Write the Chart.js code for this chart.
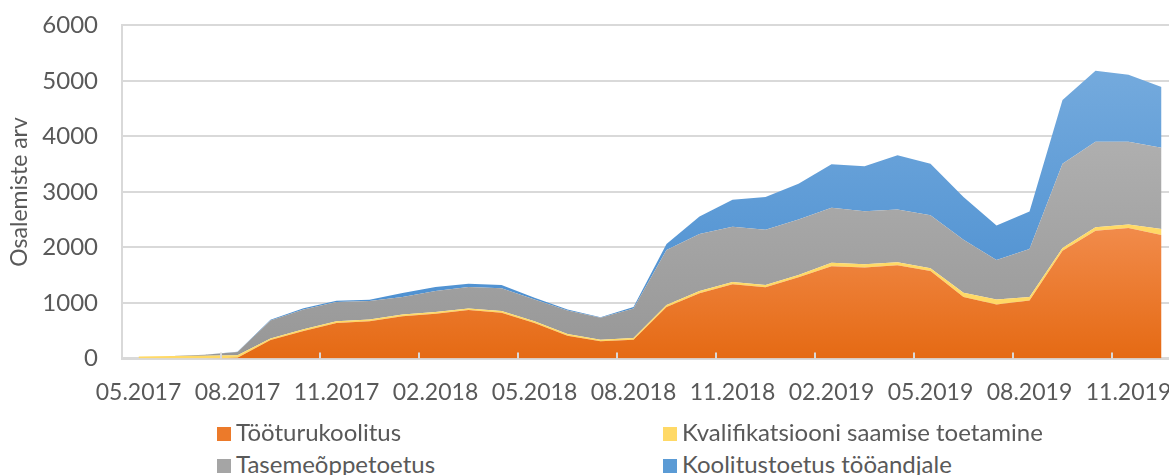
<!DOCTYPE html>
<html>
<head>
<meta charset="utf-8">
<script src="https://cdn.jsdelivr.net/npm/chart.js@4.4.1/dist/chart.umd.min.js"></script>
<style>
    html, body { margin: 0; padding: 0; background: #fff; overflow: hidden; }
    #wrap { position: relative; width: 1169px; height: 475px; overflow: hidden; }
    #box { position: absolute; left: 0; top: -13px; width: 1178px; height: 431px; }
    .legend-item { position: absolute; font-family: Lato, sans-serif; font-size: 24px; color: #595959; white-space: nowrap; line-height: 28px; }
    .legend-item span { display: inline-block; width: 14px; height: 14px; margin-right: 5px; vertical-align: 0px; }
</style>
</head>
<body>
<div id="wrap">
    <div id="box"><canvas id="myChart"></canvas></div>
    <div id="legendItems"></div>
</div>
<script>
var months = [
    '05.2017', '06.2017', '07.2017', '08.2017', '09.2017', '10.2017', '11.2017', '12.2017',
    '01.2018', '02.2018', '03.2018', '04.2018', '05.2018', '06.2018', '07.2018', '08.2018',
    '09.2018', '10.2018', '11.2018', '12.2018', '01.2019', '02.2019', '03.2019', '04.2019',
    '05.2019', '06.2019', '07.2019', '08.2019', '09.2019', '10.2019', '11.2019', '12.2019'
];
var seriesNames = ['Tööturukoolitus', 'Kvalifikatsiooni saamise toetamine', 'Tasemeõppetoetus', 'Koolitustoetus tööandjale'];
var tooturukoolitus = [0, 0, 0, 10, 330, 495, 640, 670, 760, 804, 870, 822, 640, 410, 308, 338,
    925, 1175, 1335, 1283, 1460, 1661, 1637, 1679, 1577, 1106, 973, 1045, 1940, 2302, 2350, 2224];
var kvalifikatsioon = [35, 45, 50, 45, 27, 30, 30, 30, 31, 30, 30, 30, 30, 31, 30, 30,
    35, 39, 42, 40, 44, 61, 61, 55, 47, 78, 90, 61, 48, 60, 61, 108];
var tasemeope = [0, 0, 15, 60, 326, 357, 345, 333, 314, 380, 387, 411, 393, 422, 393, 532,
    992, 1028, 997, 997, 997, 991, 955, 949, 956, 955, 708, 864, 1521, 1541, 1492, 1462];
var koolitustoetus = [0, 0, 0, 5, 15, 20, 25, 25, 75, 73, 60, 60, 31, 19, 12, 24,
    108, 314, 484, 586, 647, 785, 809, 978, 929, 767, 622, 676, 1149, 1281, 1208, 1094];
var yTicks = [0, 1000, 2000, 3000, 4000, 5000, 6000];

var legendColors = ['#EC7A2A', '#FFD966', '#A5A5A5', '#5B9BD5'];

// vertical gradient, like the Excel fill (canvas coords, box is shifted up 13px)
function grad(y0, c0, y1, c1) {
    return function (context) {
        var ctx = context.chart.ctx;
        var g = ctx.createLinearGradient(0, y0 + 13, 0, y1 + 13);
        g.addColorStop(0, c0);
        g.addColorStop(1, c1);
        return g;
    };
}

var tickMarks = {
    id: 'tickMarks',
    afterDatasetsDraw: function (chart) {
        var x = chart.scales.x, area = chart.chartArea, ctx = chart.ctx;
        var half = (x.getPixelForValue(1) - x.getPixelForValue(0)) / 2;
        ctx.save();
        ctx.strokeStyle = '#D9D9D9';
        ctx.lineWidth = 2;
        for (var i = 3; i < months.length; i += 3) {
            var px = Math.round(x.getPixelForValue(i) - half);
            ctx.beginPath();
            ctx.moveTo(px, area.bottom);
            ctx.lineTo(px, area.bottom - 6);
            ctx.stroke();
        }
        ctx.restore();
    }
};

var shadow = {
    id: 'shadow',
    beforeDatasetDraw: function (chart) {
        var ctx = chart.ctx;
        ctx.save();
        ctx.shadowColor = 'rgba(0,0,0,0.22)';
        ctx.shadowBlur = 4;
        ctx.shadowOffsetX = 1;
        ctx.shadowOffsetY = 1;
    },
    afterDatasetDraw: function (chart) {
        chart.ctx.restore();
    }
};

var ctx = document.getElementById('myChart');
var chart = new Chart(ctx, {
    type: 'line',
    plugins: [shadow, tickMarks],
    data: {
        labels: months,
        datasets: [{
            label: seriesNames[0],
            data: tooturukoolitus,
            fill: 'origin',
            backgroundColor: grad(220, '#F28D4E', 357, '#E56A14')
        }, {
            label: seriesNames[1],
            data: kvalifikatsioon,
            fill: '-1',
            backgroundColor: '#FFD966'
        }, {
            label: seriesNames[2],
            data: tasemeope,
            fill: '-1',
            backgroundColor: grad(140, '#AFAFAF', 357, '#979797')
        }, {
            label: seriesNames[3],
            data: koolitustoetus,
            fill: '-1',
            backgroundColor: grad(70, '#74AADD', 330, '#4A8ED0')
        }]
    },
    options: {
        responsive: true,
        maintainAspectRatio: false,
        animation: false,
        layout: { padding: { left: 0, right: 0, top: 1, bottom: 0 } },
        elements: {
            line: { borderWidth: 0, tension: 0 },
            point: { radius: 0, hoverRadius: 0 }
        },
        plugins: {
            legend: { display: false },
            tooltip: { enabled: false }
        },
        scales: {
            x: {
                offset: true,
                grid: { display: false },
                border: { display: true, color: '#D9D9D9', width: 3 },
                ticks: {
                    autoSkip: false,
                    maxRotation: 0,
                    padding: 12,
                    color: '#595959',
                    font: { family: 'Lato', size: 23 },
                    callback: function (value, index) {
                        return index % 3 === 0 ? months[index] : '';
                    }
                }
            },
            y: {
                stacked: true,
                min: yTicks[0],
                max: yTicks[yTicks.length - 1],
                afterBuildTicks: function (scale) {
                    scale.ticks = yTicks.map(function (v) { return { value: v }; });
                },
                afterFit: function (scale) {
                    scale.width = 122;
                },
                grid: { color: '#D9D9D9', lineWidth: 2, drawTicks: false },
                border: { display: true, color: '#D9D9D9', width: 2 },
                ticks: {
                    padding: 24,
                    color: '#595959',
                    font: { family: 'Lato', size: 24 },
                    callback: function (value) { return String(value); }
                },
                title: {
                    display: true,
                    text: 'Osalemiste arv',
                    color: '#595959',
                    font: { family: 'Lato', size: 23 },
                    padding: { top: 6, bottom: 4 }
                }
            }
        }
    }
});

// legend below the chart, two columns
var legendBox = document.getElementById('legendItems');
var legendPos = [[217, 418], [663, 418], [217, 450], [663, 450]];
seriesNames.forEach(function (name, i) {
    var item = document.createElement('div');
    item.className = 'legend-item';
    item.style.left = legendPos[i][0] + 'px';
    item.style.top = legendPos[i][1] + 'px';
    item.innerHTML = '<span style="background:' + legendColors[i] + '"></span>' + name;
    legendBox.appendChild(item);
});
</script>
</body>
</html>
